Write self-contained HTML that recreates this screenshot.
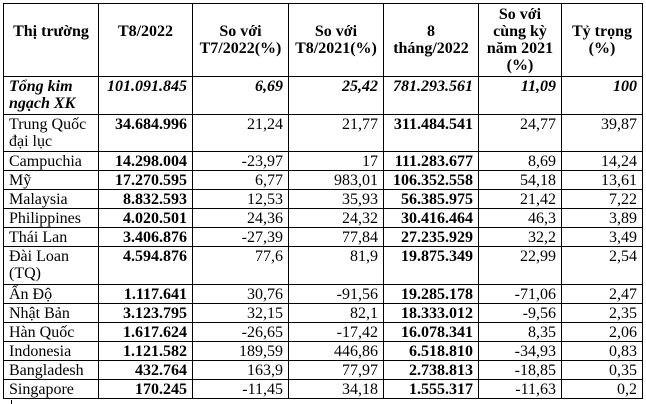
<!DOCTYPE html>
<html><head><meta charset="utf-8"><style>
html,body{margin:0;padding:0;background:#fff;width:646px;height:404px;overflow:hidden}
table{position:absolute;left:3px;top:3px;border-collapse:collapse;table-layout:fixed;font-family:"Liberation Serif",serif;font-size:16px;line-height:17px;color:#000}
td{border:1.5px solid #000;padding:1px 5px 0 5px;vertical-align:top;text-align:right;overflow:hidden;white-space:nowrap}
td.l{text-align:left}
tr.h td{font-weight:bold;text-align:center;vertical-align:middle;padding:0 2px;white-space:normal}
.b{font-weight:bold}
.bi{font-weight:bold;font-style:italic}
.w{white-space:normal}
</style></head><body>
<table>
<colgroup><col style="width:95px"><col style="width:94px"><col style="width:96px"><col style="width:95px"><col style="width:95px"><col style="width:83px"><col style="width:81px"></colgroup>
<tr class="h" style="height:73px"><td>Thị trường<br>&nbsp;</td><td>T8/2022<br>&nbsp;</td><td>So với T7/2022(%)</td><td>So với T8/2021(%)</td><td>8<br>tháng/2022</td><td>So với cùng kỳ năm 2021 (%)</td><td>Tỷ trọng (%)</td></tr>
<tr style="height:38px"><td class="l bi w">Tổng kim ngạch XK</td><td class="bi">101.091.845</td><td class="bi">6,69</td><td class="bi">25,42</td><td class="bi">781.293.561</td><td class="bi">11,09</td><td class="bi">100</td></tr>
<tr style="height:37px"><td class="l w">Trung Quốc đại lục</td><td class="b">34.684.996</td><td>21,24</td><td>21,77</td><td class="b">311.484.541</td><td>24,77</td><td>39,87</td></tr>
<tr style="height:18px"><td class="l">Campuchia</td><td class="b">14.298.004</td><td>-23,97</td><td>17</td><td class="b">111.283.677</td><td>8,69</td><td>14,24</td></tr>
<tr style="height:19px"><td class="l">Mỹ</td><td class="b">17.270.595</td><td>6,77</td><td>983,01</td><td class="b">106.352.558</td><td>54,18</td><td>13,61</td></tr>
<tr style="height:19px"><td class="l">Malaysia</td><td class="b">8.832.593</td><td>12,53</td><td>35,93</td><td class="b">56.385.975</td><td>21,42</td><td>7,22</td></tr>
<tr style="height:19px"><td class="l">Philippines</td><td class="b">4.020.501</td><td>24,36</td><td>24,32</td><td class="b">30.416.464</td><td>46,3</td><td>3,89</td></tr>
<tr style="height:19px"><td class="l">Thái Lan</td><td class="b">3.406.876</td><td>-27,39</td><td>77,84</td><td class="b">27.235.929</td><td>32,2</td><td>3,49</td></tr>
<tr style="height:38px"><td class="l w">Đài Loan (TQ)</td><td class="b">4.594.876</td><td>77,6</td><td>81,9</td><td class="b">19.875.349</td><td>22,99</td><td>2,54</td></tr>
<tr style="height:19px"><td class="l">Ấn Độ</td><td class="b">1.117.641</td><td>30,76</td><td>-91,56</td><td class="b">19.285.178</td><td>-71,06</td><td>2,47</td></tr>
<tr style="height:19px"><td class="l">Nhật Bản</td><td class="b">3.123.795</td><td>32,15</td><td>82,1</td><td class="b">18.333.012</td><td>-9,56</td><td>2,35</td></tr>
<tr style="height:19px"><td class="l">Hàn Quốc</td><td class="b">1.617.624</td><td>-26,65</td><td>-17,42</td><td class="b">16.078.341</td><td>8,35</td><td>2,06</td></tr>
<tr style="height:19px"><td class="l">Indonesia</td><td class="b">1.121.582</td><td>189,59</td><td>446,86</td><td class="b">6.518.810</td><td>-34,93</td><td>0,83</td></tr>
<tr style="height:19px"><td class="l">Bangladesh</td><td class="b">432.764</td><td>163,9</td><td>77,97</td><td class="b">2.738.813</td><td>-18,85</td><td>0,35</td></tr>
<tr style="height:19px"><td class="l">Singapore</td><td class="b">170.245</td><td>-11,45</td><td>34,18</td><td class="b">1.555.317</td><td>-11,63</td><td>0,2</td></tr>
</table>
<div style="position:absolute;left:11px;top:400px;width:1px;height:4px;background:#000"></div>
</body></html>
